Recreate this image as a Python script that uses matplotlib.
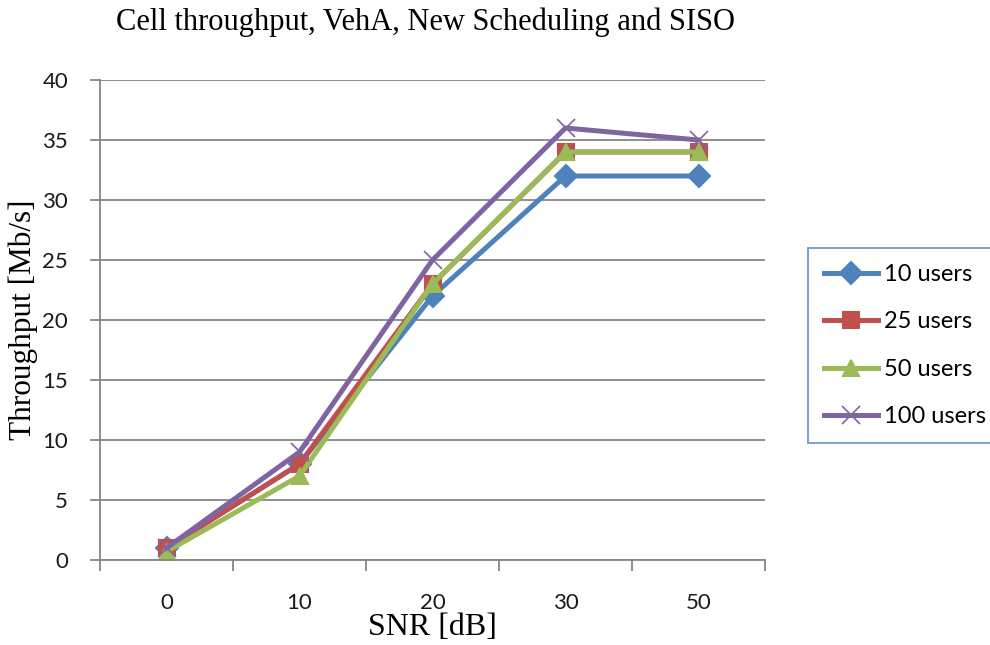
import matplotlib.pyplot as plt
import numpy as np

snr = ['0', '10', '20', '30', '50']
users_10 = [1, 8, 22, 32, 32]
users_25 = [1, 8, 23, 34, 34]
users_50 = [0.7, 7, 23, 34, 34]
users_100 = [1, 9, 25, 36, 35]

series = [
    ('10 users', users_10, '#4F81BD', 'D', 11),
    ('25 users', users_25, '#C0504D', 's', 11),
    ('50 users', users_50, '#9BBB59', '^', 12),
    ('100 users', users_100, '#8064A2', 'x', 13),
]

fig = plt.figure(figsize=(9.9, 6.45), dpi=100)
ax = fig.add_axes([100 / 990, 1 - 560 / 645, 665 / 990, 480 / 645])

x = np.arange(len(snr))
for name, vals, col, mk, ms in series:
    ax.plot(x, vals, color=col, lw=3.6, marker=mk, ms=ms, mec=col, mfc=col,
            mew=1.5 if mk != 'x' else 1.2, label=name, solid_joinstyle='miter')

ax.set_xlim(-0.5, len(snr) - 0.5)
ax.set_ylim(0, 40)
ax.set_yticks(range(0, 41, 5))
ax.yaxis.grid(True, color='#868686', lw=1.3)
ax.set_axisbelow(True)

ax.set_xticks(x)
ax.set_xticklabels(snr)
ax.set_xticks(np.arange(-0.5, len(snr)), minor=True)
ax.tick_params(axis='x', which='major', length=0, pad=24)
ax.tick_params(axis='x', which='minor', length=8, width=1.3, color='#868686', direction='out')
ax.tick_params(axis='y', length=7, width=1.3, color='#868686', direction='out', pad=16)

for lab in ax.get_xticklabels() + ax.get_yticklabels():
    lab.set_fontfamily('Lato')
    lab.set_fontsize(16)
    lab.set_color('#1a1a1a')

for s in ['top', 'right']:
    ax.spines[s].set_visible(False)
for s in ['left', 'bottom']:
    ax.spines[s].set_color('#868686')
    ax.spines[s].set_linewidth(1.3)

ax.set_xlabel('SNR [dB]', family='Liberation Serif', fontsize=23, labelpad=0)
ax.set_ylabel('Throughput [Mb/s]', family='Liberation Serif', fontsize=22.5, labelpad=3)
fig.text(425 / 990, 1 - 22 / 645, 'Cell throughput, VehA, New Scheduling and SISO',
         family='Liberation Serif', fontsize=22, ha='center', va='center')

leg = fig.legend(loc='upper left', bbox_to_anchor=(808 / 990, 1 - 248 / 645),
                 bbox_transform=fig.transFigure, frameon=True, fancybox=False,
                 prop={'family': 'Lato', 'size': 17}, handlelength=2.3,
                 labelspacing=1.12, borderpad=0.68, handletextpad=0.25, borderaxespad=0)
leg.get_frame().set_edgecolor('#4F81BD')
leg.get_frame().set_linewidth(1.3)

fig.savefig('out.png', dpi=100)
